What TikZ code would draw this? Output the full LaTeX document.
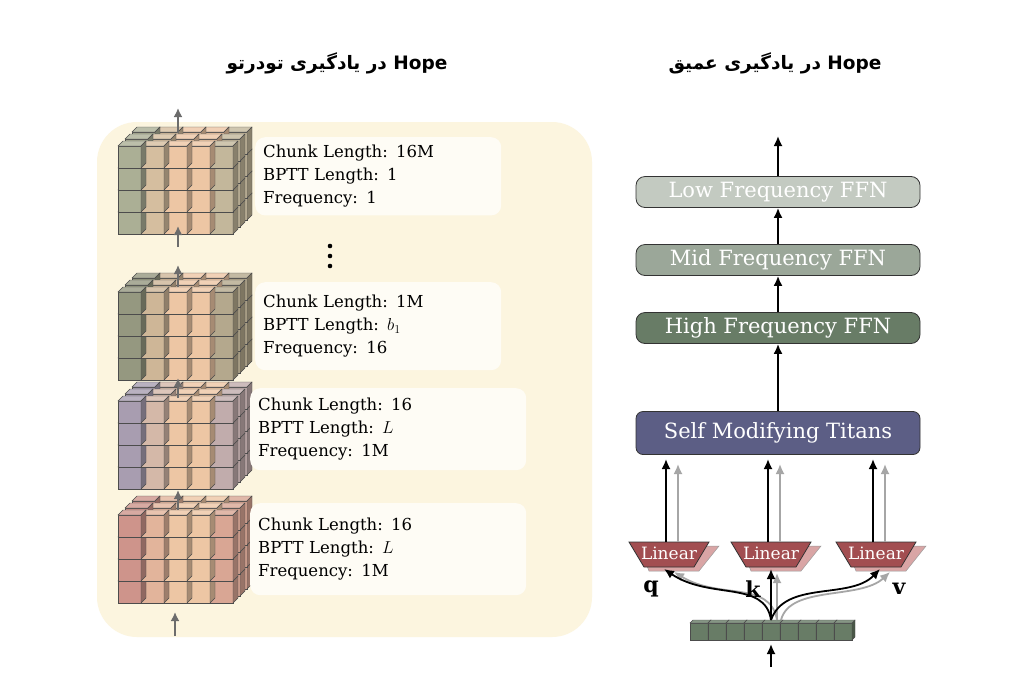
\documentclass[tikz,border=0pt]{standalone}
\usepackage{fontspec}
\setmainfont{DejaVu Serif}
\newfontfamily\fa[Script=Arabic]{DejaVu Sans}
\newfontfamily\titlefont{DejaVu Sans}
\usetikzlibrary{arrows.meta,calc}
\definecolor{bg}{HTML}{FCF5DF}
\definecolor{beige}{HTML}{EDC6A4}
\definecolor{cgreen}{HTML}{8FA58F}
\definecolor{cdgreen}{HTML}{6F8470}
\definecolor{cblue}{HTML}{8A8CB5}
\definecolor{cred}{HTML}{C07F80}
\definecolor{lowf}{HTML}{C3CAC1}
\definecolor{midf}{HTML}{9BA799}
\definecolor{highf}{HTML}{687C66}
\definecolor{titan}{HTML}{5C5E85}
\definecolor{lin}{HTML}{A24E51}
\definecolor{linsh}{HTML}{D9A5A5}
\definecolor{tok}{HTML}{687C66}
\tikzset{
 garrow/.style={draw=gray!85!black,line width=2pt,-{Latex[length=9pt,width=9pt]}},
 barrow/.style={draw=black,line width=1.8pt,-{Latex[length=10pt,width=9pt]}},
 lgarrow/.style={draw=gray!70,line width=1.8pt,-{Latex[length=10pt,width=9pt]}},
 info/.style={draw=none,fill=white!70!bg,rounded corners=10pt,align=left,anchor=north west,inner sep=8pt,font=\fontsize{16.5}{23}\selectfont},
 ffn/.style={draw=black!80,line width=0.8pt,rounded corners=9pt,minimum width=284pt,text=white,font=\fontsize{21}{24}\selectfont},
 title/.style={font=\fontsize{18.5}{22}\selectfont\titlefont\bfseries}
}
\newcommand\cubestack[3]{% x y tint
 \foreach \l in {2,1,0}{
  \foreach \r in {3,2,1,0}{
   \foreach \c in {4,3,2,1,0}{
    \pgfmathsetmacro\mix{\c==0 ? 70 : (\c==4 ? 45 : (\c==1 ? 25 : 0))}
    \pgfmathsetmacro\ox{#1+\c*23+\l*7}
    \pgfmathsetmacro\oy{#2+\r*22-\l*7}
    \fill[#3!\mix!beige,draw=black!70,line width=0.4pt] (\ox,\oy) rectangle ++(23,22);
    \fill[#3!\mix!beige!80!white,draw=black!70,line width=0.4pt] (\ox,\oy) -- ++(5,-5) -- ++(23,0) -- ++(-5,5) -- cycle;
    \fill[#3!\mix!beige!70!black,draw=black!70,line width=0.4pt] (\ox+23,\oy) -- ++(5,-5) -- ++(0,22) -- ++(-5,5) -- cycle;
   }}}}
\begin{document}
\begin{tikzpicture}[x=1pt,y=-1pt]
\useasboundingbox (0,0) rectangle (1024,683);
\fill[white] (0,0) rectangle (1024,683);
% titles
\node[title] (t1) at (337,63) {{\fa تودرتو یادگیری در} Hope};
\node[title] (t2) at (775,63) {{\fa عمیق یادگیری در} Hope};
% left panel
\fill[bg,rounded corners=40pt] (97,122) rectangle (592,637);
\cubestack{118}{146}{cgreen}
\cubestack{118}{292}{cdgreen}
\cubestack{118}{401}{cblue}
\cubestack{118}{515}{cred}
\node[info,minimum width=246pt,minimum height=78pt,text width=230pt] (i1) at (255,137) {Chunk Length: 16M\\BPTT Length: 1\\Frequency: 1};
\node[info,minimum width=246pt,minimum height=88pt,text width=230pt] (i2) at (255,282) {Chunk Length: 1M\\BPTT Length: $b_1$\\Frequency: 16};
\node[info,minimum width=276pt,minimum height=82pt,text width=260pt] (i3) at (250,388) {Chunk Length: 16\\BPTT Length: $L$\\Frequency: 1M};
\node[info,minimum width=276pt,minimum height=92pt,text width=260pt] (i4) at (250,503) {Chunk Length: 16\\BPTT Length: $L$\\Frequency: 1M};
\foreach \y in {246,256,266}\fill (330,\y) circle (2.3);
\coordinate (a0) at (178,133); \coordinate (a0t) at (178,108);
\coordinate (a1) at (178,247); \coordinate (a1t) at (178,226);
\coordinate (a2) at (178,287); \coordinate (a2t) at (178,265);
\coordinate (a3) at (178,398); \coordinate (a3t) at (178,378);
\coordinate (a4) at (178,510); \coordinate (a4t) at (178,490);
\coordinate (a5) at (175,636); \coordinate (a5t) at (175,612);
\foreach \i in {0,...,5}\draw[garrow] (a\i) -- (a\i t);
% right panel
\node[ffn,fill=lowf,minimum height=31pt] (low) at (778,192) {Low Frequency FFN};
\node[ffn,fill=midf,minimum height=31pt] (mid) at (778,260) {Mid Frequency FFN};
\node[ffn,fill=highf,minimum height=31pt] (high) at (778,328) {High Frequency FFN};
\node[ffn,fill=titan,minimum height=43pt,rounded corners=7pt] (tit) at (778,433) {Self Modifying Titans};
\coordinate (top) at (778,136);
\draw[barrow] (low) -- (top);
\draw[barrow] (mid) -- (low);
\draw[barrow] (high) -- (mid);
\draw[barrow] (tit) -- (high);
% linears
\foreach \n/\cx in {q/669,k/771,v/876}{
 \fill[linsh,draw=black!40,line width=0.5pt] (\cx-30,546) -- (\cx+50,546) -- (\cx+30,571) -- (\cx-20,571) -- cycle;
 \fill[lin,draw=black!80,line width=0.8pt] (\cx-40,542) -- (\cx+40,542) -- (\cx+25,567) -- (\cx-25,567) -- cycle;
 \node[text=white,font=\fontsize{17}{18}\selectfont] (L\n) at (\cx,553) {Linear};
 \coordinate (L\n b) at (\cx-3,542);
 \coordinate (L\n g) at (\cx+9,542);
 \draw[barrow] (L\n b) -- (\cx-3,459);
 \draw[lgarrow] (L\n g) -- (\cx+9,464);
}
% tokens
\foreach \i in {0,...,8}{
 \fill[tok,draw=black!70,line width=0.5pt] (690+\i*18,623) rectangle ++(18,17);
 \fill[tok!70!black,draw=black!70,line width=0.4pt] (690+\i*18+18,623) -- ++(3,-3) -- ++(0,17) -- ++(-3,3) -- cycle;
 \fill[tok!80!white,draw=black!70,line width=0.4pt] (690+\i*18,623) -- ++(3,-3) -- ++(18,0) -- ++(-3,3) -- cycle;
}
\coordinate (tk) at (771,620);
\coordinate (inb) at (771,667);
\draw[barrow] (inb) -- (771,644);
\draw[lgarrow] (777,620) .. controls (770,580) and (720,600) .. (674,572);
\draw[barrow] (tk) .. controls (765,580) and (710,600) .. (664,569);
\draw[lgarrow] (777,620) -- (777,573);
\draw[barrow] (tk) -- (771,569);
\draw[lgarrow] (781,620) .. controls (790,585) and (860,600) .. (890,572);
\draw[barrow] (tk) .. controls (785,580) and (850,600) .. (880,569);
\node[font=\fontsize{22}{24}\selectfont\bfseries] (q) at (651,589) {q};
\node[font=\fontsize{22}{24}\selectfont\bfseries] (k) at (753,589) {k};
\node[font=\fontsize{22}{24}\selectfont\bfseries] (v) at (899,589) {v};
\end{tikzpicture}
\end{document}
